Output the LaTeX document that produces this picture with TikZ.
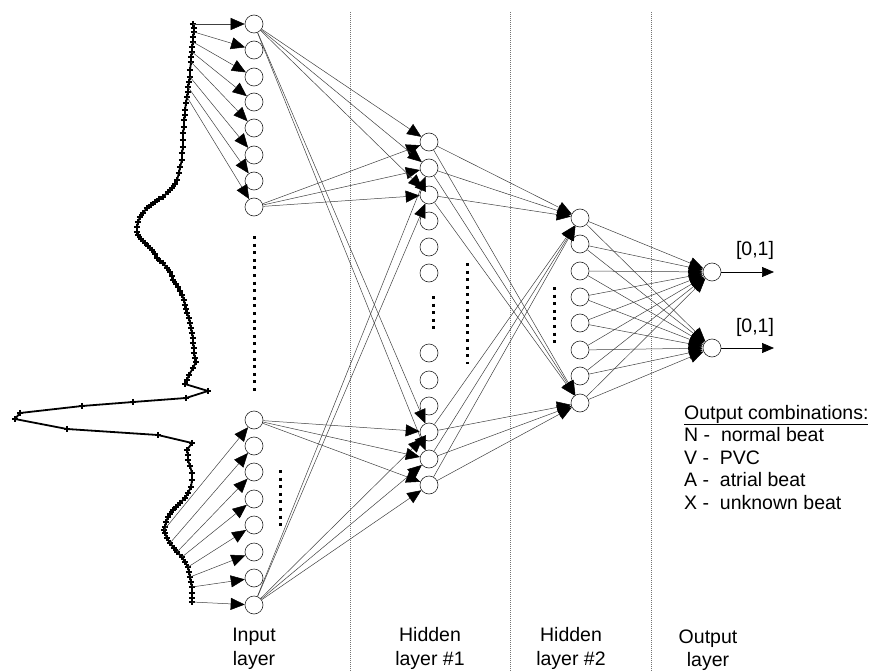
\documentclass[tikz,border=0pt]{standalone}
\usepackage{fontspec}
\setmainfont{Liberation Sans}
\usetikzlibrary{arrows.meta}
\begin{document}
\begin{tikzpicture}[x=1pt,y=-1pt,
  neuron/.style={circle,draw=black!85,line width=0.6pt,fill=white,minimum size=18pt,inner sep=0pt},
  link/.style={draw=black!75,line width=0.5pt,-{Triangle[length=14pt,width=12pt,color=black]}},
  outarrow/.style={draw=black,line width=0.7pt,-{Triangle[length=12pt,width=10pt]}},
  sep/.style={draw=black!55,line width=0.5pt,dash pattern=on 1pt off 1pt},
  dotcol/.style={draw=black,line width=3pt,dash pattern=on 3pt off 4.6pt},
  wave/.style={draw=black,line width=1.8pt,line join=round},
  txt/.style={font=\fontsize{19.5}{23}\selectfont,inner sep=0pt},
]
\useasboundingbox (0,0) rectangle (872,671);

% layer separators
\foreach \x in {350,510,651} \draw[sep] (\x,12) -- (\x,671);

% input layer
\foreach \y [count=\i] in {24,50,77,102,128,155,181,207,420,446,472,499,525,552,578,605}
  \node[neuron] (in\i) at (254,\y) {};
% hidden layer 1
\foreach \y [count=\i] in {142,168,195,221,247,273,353,380,406,432,459,485}
  \node[neuron] (h\i) at (429,\y) {};
% hidden layer 2
\foreach \y [count=\i] in {218,244,271,297,323,350,376,403}
  \node[neuron] (g\i) at (580,\y) {};
% output layer
\node[neuron] (o1) at (712,272) {};
\node[neuron] (o2) at (712,348) {};

% ellipsis columns
\draw[dotcol] (254,236) -- (254,394);
\draw[dotcol] (280,470) -- (280,528);
\draw[dotcol] (433,296) -- (433,331);
\draw[dotcol] (467,263) -- (467,364);
\draw[dotcol] (554,287) -- (554,344);

% sampled beat
\draw[wave] plot[mark=+,mark size=3.2pt,mark options={line width=1.6pt}] coordinates {
 (193,24) (194,28) (194,32) (193,37) (193,42) (192,47) (192,52) (191,57) (191,62)
 (190,70) (190,77) (189,82) (188,87) (188,92) (187,97) (186,103) (185,110) (185,115)
 (184,120) (184,127) (183,133) (183,140) (183,147) (182,153) (182,160) (180,167)
 (179,173) (177,180) (175,184) (172,188) (168,192) (163,197) (159,199) (155,202)
 (151,205) (147,208) (143,213) (140,217) (138,222) (137,227) (137,232) (138,235)
 (141,239) (145,243) (148,246) (152,250) (155,254) (157,258) (160,261) (163,263)
 (167,268) (170,272) (172,276) (173,280) (176,284) (178,287) (180,291) (182,295)
 (184,300) (185,305) (186,309) (187,313) (189,318) (190,323) (191,328) (192,333)
 (193,338) (193,343) (194,348) (194,353) (195,358) (196,362) (193,368) (189,375)
 (187,380) (185,384) (208,391) (186,398) (133,402) (82,406) (20,413) (15,419)
 (67,429) (158,435) (192,443) (187,450) (188,455) (188,460) (190,466) (192,473)
 (192,480) (191,487) (188,493) (185,498) (180,503) (176,507) (173,510) (170,514)
 (168,517) (166,522) (165,527) (164,530) (165,533) (167,538) (170,543) (174,548)
 (177,552) (182,557) (185,562) (188,567) (189,572) (190,577) (191,582) (192,587)
 (192,593) (192,598) (192,602)};

% sample points feeding the input layer
\foreach \p [count=\i] in {{193,24},{194,32},{193,42},{192,52},{191,62},{190,77},{188,87},{187,97},
  {164,530},{170,543},{177,552},{182,557},{188,567},{190,577},{192,587},{192,602}}
  \coordinate (w\i) at (\p);
\foreach \i in {1,...,16} \draw[link] (w\i) -- (in\i);

% input -> hidden 1
\foreach \t in {1,2,3} {
  \draw[link] (in1) -- (h\t);
  \draw[link] (in8) -- (h\t);
}
\draw[link] (in1) -- (h10);
\draw[link] (in1) -- (h11);
\foreach \t in {10,11,12} {
  \draw[link] (in9) -- (h\t);
  \draw[link] (in16) -- (h\t);
}
\draw[link] (in16) -- (h2);
\draw[link] (in16) -- (h3);

% hidden 1 -> hidden 2
\foreach \s in {1,2,3,10,11,12} {
  \draw[link] (h\s) -- (g1);
  \draw[link] (h\s) -- (g8);
}
% hidden 2 -> output
\foreach \s in {1,...,8} {
  \draw[link] (g\s) -- (o1);
  \draw[link] (g\s) -- (o2);
}

% outputs
\coordinate (y1) at (774,272);
\coordinate (y2) at (774,348);
\draw[outarrow] (o1) -- (y1);
\draw[outarrow] (o2) -- (y2);
\node[txt,anchor=base] (r1) at (755,255) {[0,1]};
\node[txt,anchor=base] (r2) at (755,332) {[0,1]};

% layer captions
\node[txt,anchor=base] (c1a) at (254,641) {Input};
\node[txt,anchor=base] (c1b) at (254,665) {layer};
\node[txt,anchor=base] (c2a) at (430,641) {Hidden};
\node[txt,anchor=base] (c2b) at (430,665) {layer \#1};
\node[txt,anchor=base] (c3a) at (571,641) {Hidden};
\node[txt,anchor=base] (c3b) at (571,665) {layer \#2};
\node[txt,anchor=base] (c4a) at (708,643) {Output};
\node[txt,anchor=base] (c4b) at (708,666) {layer};

% legend
\node[txt,anchor=base west] (k0) at (684,419) {\underline{Output combinations:}};
\node[txt,anchor=base west] (k1) at (684,441.5) {N -~ normal beat};
\node[txt,anchor=base west] (k2) at (684,464) {V -~ PVC};
\node[txt,anchor=base west] (k3) at (684,486.5) {A -~ atrial beat};
\node[txt,anchor=base west] (k4) at (684,509) {X -~ unknown beat};
\end{tikzpicture}
\end{document}
